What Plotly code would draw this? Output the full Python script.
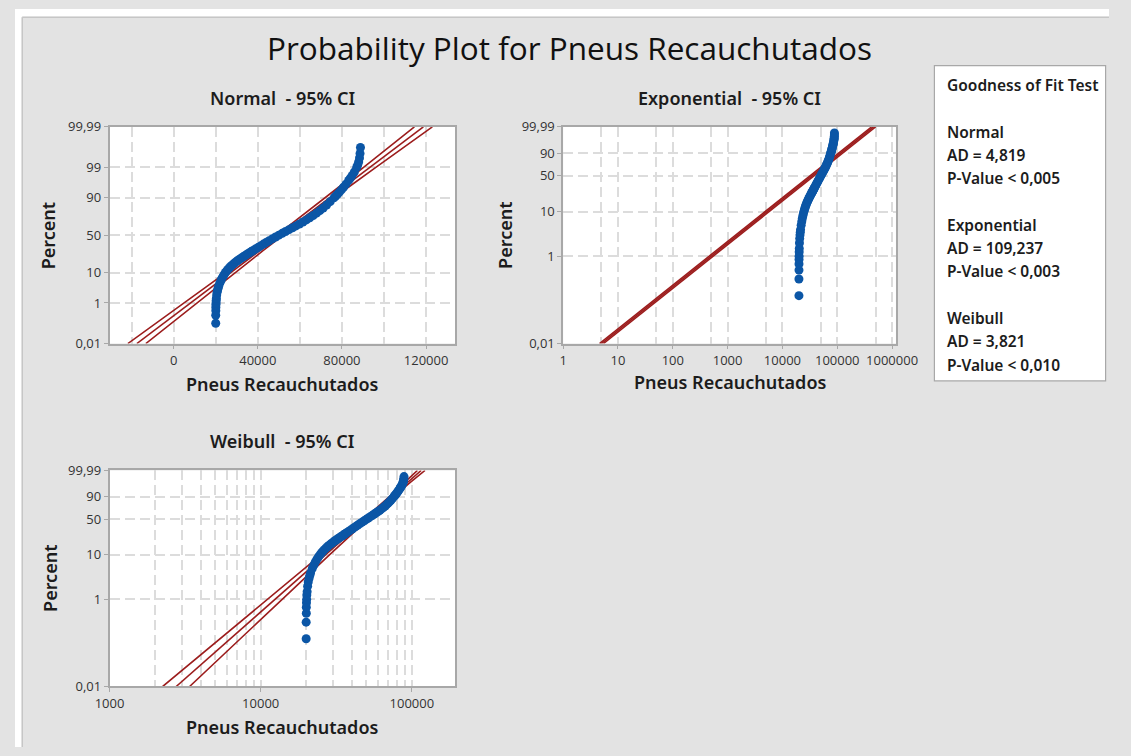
import math
from statistics import NormalDist
import plotly.graph_objects as go

W, H = 1131, 756

# ---------------- data ----------------
obs_percent = [0.125, 0.30, 0.48, 0.66, 0.84, 1.0, 1.25, 1.5, 2.0, 2.5, 3.0, 3.5, 4.0, 5.0, 6.0, 7.0, 8.0, 9.0,
               10, 11, 12, 13, 14, 15, 16, 17, 18, 19, 20, 21, 22, 23, 24, 25, 26, 27, 28, 29, 30,
               32, 34, 36, 38, 40, 42.5, 45, 47.5, 50, 52.5, 55, 57.5, 60, 62.5, 65, 67.5, 70,
               72.5, 75, 77.5, 80, 82.5, 85, 87.5, 90, 91, 92, 93, 94, 95, 96, 97, 97.5, 98, 98.5,
               99, 99.2, 99.4, 99.6, 99.75, 99.87]
obs_value = [20000, 20000, 20050, 20050, 20100, 20150, 20200, 20300, 20450, 20650, 20900, 21150, 21400, 21950, 22500, 23000, 23550, 24100,
             24650, 25200, 25800, 26400, 27000, 27650, 28300, 28950, 29650, 30350, 31050, 31750, 32450, 33150, 33850, 34550, 35200, 35850, 36500, 37150, 37800,
             39050, 40300, 41500, 42700, 43900, 45400, 46900, 48450, 50000, 51600, 53200, 54850, 56500, 58150, 59800, 61450, 63100,
             64700, 66300, 67900, 69500, 71100, 72700, 74400, 76200, 77000, 77850, 78750, 79700, 80750, 81900, 83200, 84000, 84900, 85900,
             87000, 87500, 87950, 88350, 88600, 88800]
assert len(obs_percent) == len(obs_value)

normal_fit_percent = [0.01, 0.1, 1, 5, 10, 30, 50, 70, 90, 95, 99, 99.9, 99.99]
normal_fit = [-17500, -5980, 8010, 20480, 27130, 41000, 50600, 60200, 74070, 80720, 93190, 107180, 118700]
normal_lower = [-21770, -9620, 5090, 18150, 25080, 39380, 49080, 58580, 72020, 78390, 90270, 103540, 114430]
normal_upper = [-13230, -2340, 10930, 22810, 29180, 42620, 52120, 61820, 76120, 83050, 96110, 110820, 122970]

exp_fit_percent = [0.01, 1, 10, 50, 90, 99, 99.99]
exp_fit = [5.0, 502.5, 5268, 34660, 115130, 230260, 460520]
exp_lower = [4.6, 462, 4847, 31890, 105920, 211840, 423680]
exp_upper = [5.44, 546, 5727, 37680, 125150, 250290, 500590]

weib_fit_percent = [0.01, 0.1, 1, 10, 50, 90, 99, 99.99]
weib_fit = [2761, 5848, 12430, 26790, 49550, 73280, 92050, 115300]
weib_lower = [2249, 5000, 11080, 25180, 47970, 71120, 88720, 108900]
weib_upper = [3388, 6839, 13950, 28510, 51170, 75510, 95500, 122200]

normal_tick_pct = [0.01, 1, 10, 50, 90, 99, 99.99]
normal_tick_txt = ["0,01", "1", "10", "50", "90", "99", "99,99"]
weib_tick_pct = [0.01, 1, 10, 50, 90, 99.99]
weib_tick_txt = ["0,01", "1", "10", "50", "90", "99,99"]

normal_x_ticks = [0, 40000, 80000, 120000]
normal_x_minor = [-20000, 20000, 60000, 100000]
exp_x_ticks = [1, 10, 100, 1000, 10000, 100000, 1000000]
exp_x_minor = [5, 50, 500, 5000, 50000, 500000]
weib_x_ticks = [1000, 10000, 100000]
weib_x_minor = [2000, 3000, 4000, 5000, 6000, 7000, 8000, 9000,
                20000, 30000, 40000, 50000, 60000, 70000, 80000, 90000]

gof_lines = ["Goodness of Fit Test", "", "Normal", "AD = 4,819", "P-Value < 0,005", "",
             "Exponential", "AD = 109,237", "P-Value < 0,003", "",
             "Weibull", "AD = 3,821", "P-Value < 0,010"]

# ---------------- helpers ----------------
nd = NormalDist()


def zq(pcts):
    return [nd.inv_cdf(p / 100.0) for p in pcts]


def wq(pcts):
    return [math.log10(-math.log(1 - p / 100.0)) for p in pcts]


def fx(x):
    return x / W


def fy(y):
    return 1 - y / H


FONT = "Open Sans"
LFONT = "Noto Sans"
TXT = "#1c1c1c"
RED = "#9c1d1d"
BLUE = "#0b56a6"
GRID = "#dcdcdc"
FRAME = "#a8a8a8"
BG = "#e3e3e3"

fig = go.Figure()


def add_panel(xa, ya, xs_list, ys_fit, obs_y):
    for xs in xs_list:
        fig.add_trace(go.Scatter(x=xs, y=ys_fit, mode="lines", xaxis=xa, yaxis=ya,
                                 line=dict(color=RED, width=1.6), hoverinfo="skip"))
    fig.add_trace(go.Scatter(x=obs_value, y=obs_y, mode="markers", xaxis=xa, yaxis=ya,
                             marker=dict(color=BLUE, size=9, line=dict(width=0))))


add_panel("x", "y", [normal_lower, normal_fit, normal_upper], zq(normal_fit_percent), zq(obs_percent))
add_panel("x2", "y2", [exp_lower, exp_fit, exp_upper], wq(exp_fit_percent), wq(obs_percent))
add_panel("x3", "y3", [weib_lower, weib_fit, weib_upper], wq(weib_fit_percent), wq(obs_percent))

common = dict(showline=True, linecolor=FRAME, linewidth=1.5, mirror=True,
              ticks="outside", ticklen=4, tickwidth=1, tickcolor=FRAME,
              tickfont=dict(family=FONT, size=13, color="#333333"),
              showgrid=True, gridcolor=GRID, gridwidth=1.5, griddash="10px,5px",
              zeroline=False, fixedrange=True, tickmode="array")
minor_common = dict(showgrid=True, gridcolor=GRID, gridwidth=1.5, griddash="10px,5px",
                    ticks="", tickmode="array")

dom_x_left = [fx(97.7), fx(455)]
dom_x_right = [fx(566.7), fx(910.7)]
dom_y_top = [fy(342.7), fy(120.7)]
dom_y_bot = [fy(694), fy(472.7)]

fig.update_layout(
    xaxis=dict(common, domain=dom_x_left, anchor="y", range=[-30500, 133800],
               tickvals=normal_x_ticks, ticktext=[str(v) for v in normal_x_ticks],
               minor=dict(minor_common, tickvals=normal_x_minor)),
    yaxis=dict(common, domain=dom_y_top, anchor="x", range=[nd.inv_cdf(0.0001), nd.inv_cdf(0.9999)],
               tickvals=zq(normal_tick_pct), ticktext=normal_tick_txt),
    xaxis2=dict(common, domain=dom_x_right, anchor="y2", type="log", range=[0, 6.07],
                tickvals=exp_x_ticks, ticktext=[str(v) for v in exp_x_ticks],
                minor=dict(minor_common, tickvals=exp_x_minor)),
    yaxis2=dict(common, domain=dom_y_top, anchor="x2", range=[wq([0.01])[0], wq([99.99])[0]],
                tickvals=wq(weib_tick_pct), ticktext=weib_tick_txt),
    xaxis3=dict(common, domain=dom_x_left, anchor="y3", type="log", range=[3, 5.2865],
                tickvals=weib_x_ticks, ticktext=[str(v) for v in weib_x_ticks],
                minor=dict(minor_common, tickvals=weib_x_minor)),
    yaxis3=dict(common, domain=dom_y_bot, anchor="x3", range=[wq([0.01])[0], wq([99.99])[0]],
                tickvals=wq(weib_tick_pct), ticktext=weib_tick_txt),
)

shapes = [
    dict(type="rect", xref="paper", yref="paper", x0=0, x1=1, y0=fy(8), y1=1,
         fillcolor="white", line=dict(width=0), layer="below"),
    dict(type="rect", xref="paper", yref="paper", x0=0, x1=fx(7), y0=0, y1=1,
         fillcolor="white", line=dict(width=0), layer="below"),
    dict(type="line", xref="paper", yref="paper", x0=fx(7.5), x1=1, y0=fy(8.5), y1=fy(8.5),
         line=dict(color="#c6c6c6", width=1.5)),
    dict(type="line", xref="paper", yref="paper", x0=fx(7.5), x1=fx(7.5), y0=0, y1=fy(8.5),
         line=dict(color="#c6c6c6", width=1.5)),
    dict(type="rect", xref="paper", yref="paper", x0=fx(950.5), x1=fx(1127.5), y0=fy(381), y1=fy(58),
         fillcolor="white", line=dict(color=FRAME, width=1.2)),
]

anns = []


def ann(text, x, y, size, weight=400, xanchor="center", angle=0, color=TXT, family=LFONT):
    anns.append(dict(text=text, x=fx(x), y=fy(y), xref="paper", yref="paper",
                     xanchor=xanchor, yanchor="middle", showarrow=False, textangle=angle,
                     font=dict(family=family, size=size, color=color, weight=weight)))


ann("Probability Plot for Pneus Recauchutados", 573.5, 39, 31.5, family=FONT, color="#111111")
ann("Normal  - 95% CI", 276.4, 91.5, 18, 600)
ann("Exponential  - 95% CI", 738.7, 91.5, 18, 600)
ann("Weibull  - 95% CI", 276.4, 442.5, 18, 600)
ann("Pneus Recauchutados", 276.4, 384, 18, 600)
ann("Pneus Recauchutados", 738.7, 382, 18, 600)
ann("Pneus Recauchutados", 276.4, 735, 18, 600)
ann("Percent", 35, 232, 18, 600, angle=-90)
ann("Percent", 507, 232, 18, 600, angle=-90)
ann("Percent", 36, 583, 18, 600, angle=-90)

gof_y0, gof_dy = 78, 23.85
for i, line in enumerate(gof_lines):
    if line:
        ann(line, 961, gof_y0 + i * gof_dy, 15.5, 600, xanchor="left")

fig.update_layout(
    width=W, height=H, margin=dict(l=0, r=0, t=0, b=0, pad=0),
    paper_bgcolor=BG, plot_bgcolor="white",
    showlegend=False, shapes=shapes, annotations=anns,
    font=dict(family=FONT, color=TXT),
)

fig.write_html("out.html")
